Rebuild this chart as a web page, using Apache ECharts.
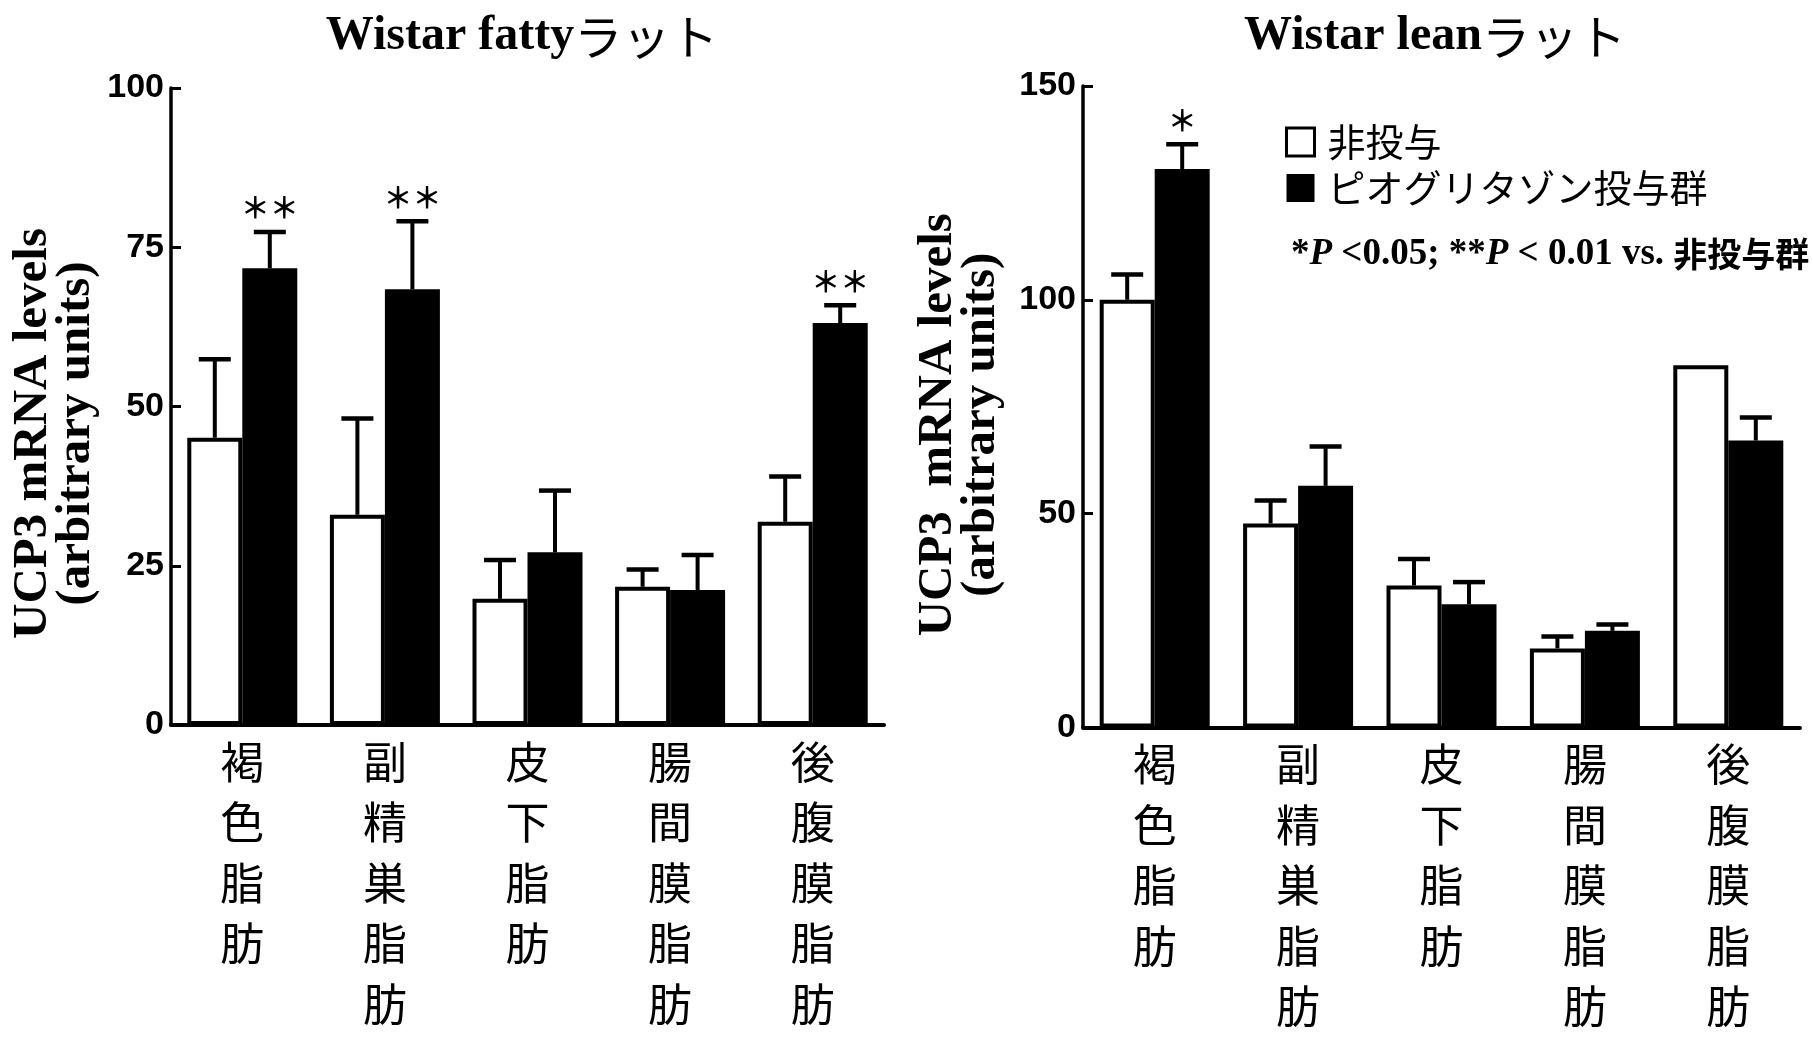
<!DOCTYPE html>
<html>
<head>
<meta charset="utf-8">
<script src="https://cdn.jsdelivr.net/npm/echarts@6/dist/echarts.min.js"></script>
<style>
  html, body { margin: 0; padding: 0; background: #fff; }
  #chart { width: 1813px; height: 1037px; }
</style>
</head>
<body>
<div id="chart"></div>
<script>
// Adipose depots on the x axis
const categories = ['褐色脂肪', '副精巣脂肪', '皮下脂肪', '腸間膜脂肪', '後腹膜脂肪'];
const seriesNames = ['非投与', 'ピオグリタゾン投与群'];

// Wistar fatty rats: mean and SE (upper error bar)
const fattyControl   = [45.1, 33.0, 19.8, 21.7, 31.9];
const fattyControlSE = [12.3, 15.1, 6.1, 2.7, 7.1];
const fattyPio       = [71.7, 68.4, 27.1, 21.2, 63.1];
const fattyPioSE     = [5.7, 10.7, 9.7, 5.5, 2.8];
const fattySig       = ['**', '**', '', '', '**'];

// Wistar lean rats
const leanControl   = [100.0, 47.7, 33.2, 18.5, 84.7];
const leanControlSE = [5.9, 5.4, 6.2, 2.8, 0];
const leanPio       = [130.6, 56.5, 28.8, 22.6, 67.1];
const leanPioSE     = [5.8, 9.2, 5.2, 1.5, 5.4];
const leanSig       = ['*', '', '', '', ''];

// Value axis ranges: [max, interval]
const fattyAxis = [100, 25];
const leanAxis  = [150, 50];

const BAR_W = 55;
const SERIF = '"Liberation Serif", "Times New Roman", serif';
const SANS = '"Liberation Sans", Arial, sans-serif';
const CJK = '"Noto Sans CJK JP", sans-serif';

function xAxisFor(idx) {
  return {
    type: 'category', gridIndex: idx, data: categories,
    axisLine: { lineStyle: { color: '#000', width: 4 } },
    axisTick: { show: false },
    axisLabel: {
      interval: 0, margin: 7, color: '#000',
      fontFamily: CJK, fontSize: 44, lineHeight: 60.5,
      formatter: v => v.split('').join('\n')
    }
  };
}

function yAxisFor(idx, range, name, gap, shift) {
  return {
    type: 'value', gridIndex: idx, min: 0, max: range[0], interval: range[1],
    axisLine: { show: true, lineStyle: { color: '#000', width: 3.5 } },
    axisTick: { show: true, inside: true, length: 10, lineStyle: { color: '#000', width: 3 } },
    splitLine: { show: false },
    axisLabel: { color: '#000', fontFamily: SANS, fontWeight: 'bold', fontSize: 34, margin: 7 },
    name: name, nameLocation: 'middle', nameGap: gap,
    nameTextStyle: {
      color: '#000', fontFamily: SERIF, fontWeight: 'bold', fontSize: 49, lineHeight: 43,
      padding: [0, shift, 0, 0]
    }
  };
}

function barSeries(idx, name, values, filled) {
  return {
    type: 'bar', name: name, xAxisIndex: idx, yAxisIndex: idx,
    data: values, barWidth: BAR_W, barGap: '0%',
    itemStyle: filled
      ? { color: '#000' }
      : { color: '#fff', borderColor: '#000', borderWidth: 4 },
    emphasis: { disabled: true }
  };
}

// Upper SE whiskers plus significance asterisks, placed on each bar's centre
function errorSeries(idx, means, errs, marks, side) {
  return {
    type: 'custom', coordinateSystem: 'cartesian2d',
    xAxisIndex: idx, yAxisIndex: idx, z: 5, silent: true,
    data: means.map((m, i) => [i, m, errs[i]]),
    renderItem(params, api) {
      const i = api.value(0), m = api.value(1), e = api.value(2);
      const base = api.coord([i, m]);
      const top = api.coord([i, m + e]);
      const x = base[0] + side * BAR_W / 2;
      const children = [];
      if (e > 0) {
        children.push({ type: 'line', shape: { x1: x, y1: base[1], x2: x, y2: top[1] },
                        style: { stroke: '#000', lineWidth: 4 } });
        children.push({ type: 'line', shape: { x1: x - 16, y1: top[1], x2: x + 16, y2: top[1] },
                        style: { stroke: '#000', lineWidth: 4.5 } });
      }
      const mark = marks[params.dataIndex];
      if (mark) {
        children.push({ type: 'text', x: x, y: top[1] - 9,
          style: { text: mark.replace(/\*/g, '＊'), fill: '#000', font: 'bold 29px ' + CJK,
                   align: 'center', verticalAlign: 'bottom' } });
      }
      return { type: 'group', children: children };
    }
  };
}

const titleRich = {
  a: { fontFamily: SERIF, fontWeight: 'bold', fontSize: 48, color: '#000' },
  b: { fontFamily: CJK, fontWeight: 'normal', fontSize: 48, color: '#000' }
};

const chart = echarts.init(document.getElementById('chart'), null, { renderer: 'canvas' });
chart.setOption({
  animation: false,
  backgroundColor: '#fff',
  title: [
    { text: '{a|Wistar fatty}{b|ラット}', left: 517, top: 8, textAlign: 'center',
      textStyle: { rich: titleRich } },
    { text: '{a|Wistar lean}{b|ラット}', left: 1430, top: 8, textAlign: 'center',
      textStyle: { rich: titleRich } },
    {
      text: '{a|*}{i|P}{a| <0.05; **}{i|P}{a| < 0.01 vs. }{c|非投与群}', left: 1286, top: 231,
      textStyle: { rich: {
        a: { fontFamily: SERIF, fontWeight: 'bold', fontSize: 37, color: '#000' },
        i: { fontFamily: SERIF, fontWeight: 'bold', fontStyle: 'italic', fontSize: 37, color: '#000' },
        c: { fontFamily: CJK, fontWeight: 'bold', fontSize: 34, color: '#000' }
      } }
    }
  ],
  legend: {
    data: [
      { name: seriesNames[0], icon: 'rect', itemStyle: { color: '#fff', borderColor: '#000', borderWidth: 3 } },
      { name: seriesNames[1], icon: 'rect', itemStyle: { color: '#000' } }
    ],
    orient: 'vertical', left: 1280, top: 118, itemWidth: 28, itemHeight: 28, itemGap: 8,
    selectedMode: false,
    textStyle: { fontFamily: CJK, fontSize: 38, color: '#000', padding: [0, 0, 0, 8] }
  },
  grid: [
    { left: 171, top: 88, width: 713, height: 637 },
    { left: 1083, top: 86, width: 717, height: 642 }
  ],
  xAxis: [xAxisFor(0), xAxisFor(1)],
  yAxis: [
    yAxisFor(0, fattyAxis, 'UCP3 mRNA levels\n(arbitrary units)', 73, 54),
    yAxisFor(1, leanAxis, 'UCP3  mRNA levels\n(arbitrary units)', 80, 36)
  ],
  series: [
    barSeries(0, seriesNames[0], fattyControl, false),
    barSeries(0, seriesNames[1], fattyPio, true),
    errorSeries(0, fattyControl, fattyControlSE, ['', '', '', '', ''], -1),
    errorSeries(0, fattyPio, fattyPioSE, fattySig, 1),
    barSeries(1, seriesNames[0], leanControl, false),
    barSeries(1, seriesNames[1], leanPio, true),
    errorSeries(1, leanControl, leanControlSE, ['', '', '', '', ''], -1),
    errorSeries(1, leanPio, leanPioSE, leanSig, 1)
  ]
});
</script>
</body>
</html>
